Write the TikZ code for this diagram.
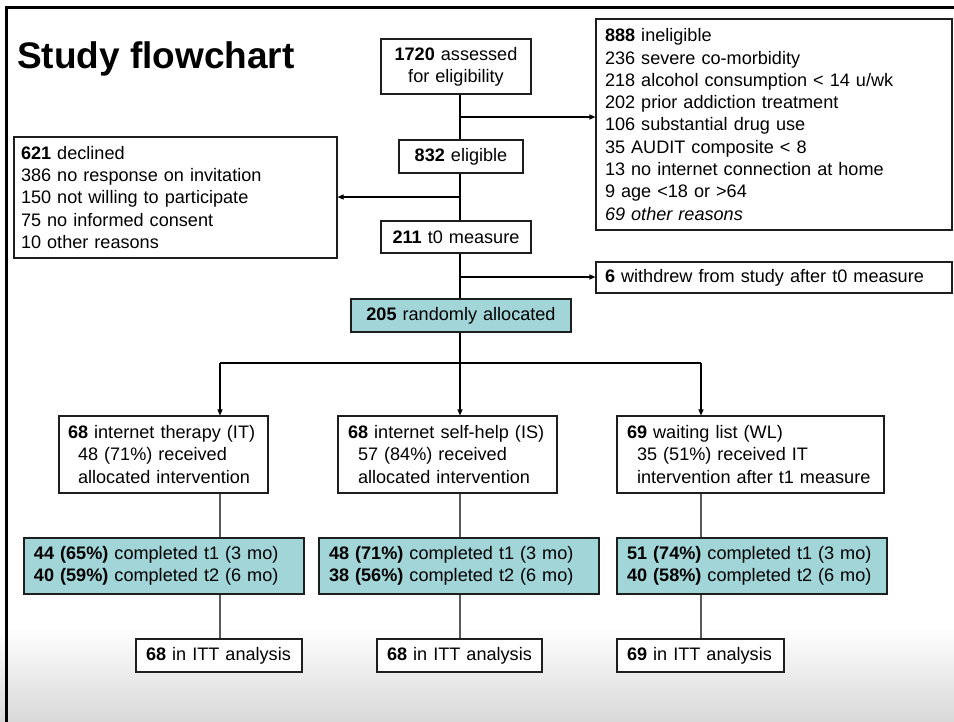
\documentclass[tikz,border=0pt]{standalone}
\usepackage{fontspec}
\setmainfont{Liberation Sans}
\usetikzlibrary{arrows.meta}
\definecolor{tealc}{RGB}{161,213,216}
\definecolor{linec}{RGB}{30,30,30}
\definecolor{graylc}{RGB}{90,90,90}
\newcommand{\fsz}{\fontsize{18.1}{22.3}\selectfont}
\tikzset{
  box/.style={draw=linec, line width=1.1pt, fill=white, inner xsep=9pt, inner ysep=0pt, font=\fsz, align=left, anchor=center},
  tealbox/.style={box, fill=tealc},
  arr/.style={draw=black, line width=1.1pt, -{Triangle[length=6pt,width=5pt]}},
  conn/.style={draw=black, line width=1.1pt},
  gconn/.style={draw=graylc, line width=1.1pt}
}
\begin{document}
\begin{tikzpicture}[x=1pt,y=-1pt]
\useasboundingbox (0,0) rectangle (954,721);
\clip (0,0) rectangle (954,721);
\fill[white] (0,0) rectangle (954,627);
\fill[top color=white, bottom color=black!15] (0,627) rectangle (954,721);
\draw[line width=3pt] (6.5,730) -- (6.5,7.5) -- (960,7.5);

\node[font=\fontsize{37}{40}\selectfont\bfseries, anchor=base west, inner sep=0pt] (title) at (17,68) {Study flowchart};

\coordinate (spine) at (460,0);
\coordinate (c1) at (220,0);
\coordinate (c2) at (460,0);
\coordinate (c3) at (701,0);

\node[box, align=center, minimum height=55pt, text width=132pt] (assess) at (456,66.5) {\mbox{\textbf{1720} assessed}\\\mbox{for eligibility}};
\node[box, minimum height=211pt, text width=338pt] (inel) at (774,124.5) {\textbf{888} ineligible\\236 severe co-morbidity\\218 alcohol consumption < 14 u/wk\\202 prior addiction treatment\\106 substantial drug use\\35 AUDIT composite < 8\\13 no internet connection at home\\9 age <18 or >64\\\textit{69 other reasons}};
\node[box, align=center, minimum height=33pt, text width=106pt] (elig) at (461,156.5) {\mbox{\textbf{832} eligible}};
\node[box, inner xsep=7pt, minimum height=121pt, text width=309pt] (decl) at (175.5,197.5) {\textbf{621} declined\\386 no response on invitation\\150 not willing to participate\\75 no informed consent\\10 other reasons};
\node[box, align=center, minimum height=32pt, text width=132pt] (t0) at (456,237) {\mbox{\textbf{211} t0 measure}};
\node[box, minimum height=31pt, text width=338pt] (wd) at (774,277.5) {\mbox{\textbf{6} withdrew from study after t0 measure}};
\node[tealbox, align=center, minimum height=33pt, text width=202pt] (rand) at (461,315.5) {\mbox{\textbf{205} randomly allocated}};

\node[box, minimum height=77pt, text width=191pt] (it) at (163.5,454.5) {\mbox{\textbf{68} internet therapy (IT)}\\\mbox{\hspace*{10pt}48 (71\%) received}\\\mbox{\hspace*{10pt}allocated intervention}};
\node[box, inner xsep=10pt, minimum height=77pt, text width=199pt] (is) at (447.5,454.5) {\mbox{\textbf{68} internet self-help (IS)}\\\mbox{\hspace*{10pt}57 (84\%) received}\\\mbox{\hspace*{10pt}allocated intervention}};
\node[box, inner xsep=10pt, minimum height=77pt, text width=247pt] (wl) at (750.5,454.5) {\mbox{\textbf{69} waiting list (WL)}\\\mbox{\hspace*{10pt}35 (51\%) received IT}\\\mbox{\hspace*{10pt}intervention after t1 measure}};

\node[tealbox, inner xsep=10pt, minimum height=56pt, text width=260pt] (cit) at (164,566) {\mbox{\textbf{44 (65\%)} completed t1 (3 mo)}\\\mbox{\textbf{40 (59\%)} completed t2 (6 mo)}};
\node[tealbox, inner xsep=10pt, minimum height=56pt, text width=260pt] (cis) at (459,566) {\mbox{\textbf{48 (71\%)} completed t1 (3 mo)}\\\mbox{\textbf{38 (56\%)} completed t2 (6 mo)}};
\node[tealbox, inner xsep=10pt, minimum height=56pt, text width=250pt] (cwl) at (752,566) {\mbox{\textbf{51 (74\%)} completed t1 (3 mo)}\\\mbox{\textbf{40 (58\%)} completed t2 (6 mo)}};

\node[box, inner xsep=10pt, minimum height=33pt, text width=146pt] (ait) at (219,655.5) {\mbox{\textbf{68} in ITT analysis}};
\node[box, inner xsep=10pt, minimum height=33pt, text width=145pt] (ais) at (459.5,655.5) {\mbox{\textbf{68} in ITT analysis}};
\node[box, inner xsep=10pt, minimum height=33pt, text width=147pt] (awl) at (700.5,655.5) {\mbox{\textbf{69} in ITT analysis}};

% spine
\draw[conn] (assess.south -| spine) -- (elig.north -| spine);
\draw[conn] (elig.south -| spine) -- (t0.north -| spine);
\draw[conn] (t0.south -| spine) -- (rand.north -| spine);
\coordinate (j1) at (460,117);
\coordinate (j2) at (460,197);
\coordinate (j3) at (460,277);
\draw[arr] (j1) -- (j1 -| inel.west);
\draw[arr] (j2) -- (j2 -| decl.east);
\draw[arr] (j3) -- (j3 -| wd.west);

\coordinate (split) at (460,363);
\draw[conn] (rand.south -| spine) -- (split);
\draw[conn] (c1 |- split) -- (c3 |- split);
\draw[arr] (c1 |- split) -- (c1 |- it.north);
\draw[arr] (split) -- (c2 |- is.north);
\draw[arr] (c3 |- split) -- (c3 |- wl.north);

\draw[gconn] (c1 |- it.south) -- (c1 |- cit.north);
\draw[gconn] (c2 |- is.south) -- (c2 |- cis.north);
\draw[gconn] (c3 |- wl.south) -- (c3 |- cwl.north);
\draw[gconn] (c1 |- cit.south) -- (c1 |- ait.north);
\draw[gconn] (c2 |- cis.south) -- (c2 |- ais.north);
\draw[gconn] (c3 |- cwl.south) -- (c3 |- awl.north);
\end{tikzpicture}
\end{document}
